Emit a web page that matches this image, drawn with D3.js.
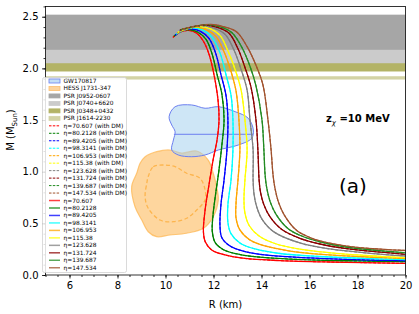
<!DOCTYPE html>
<html>
<head>
<meta charset="utf-8">
<script src="https://cdn.jsdelivr.net/npm/d3@7"></script>
<style>
body { margin: 0; background: #fff; }
text { font-family: "DejaVu Sans", sans-serif; fill: #000; }
</style>
</head>
<body>
<svg id="chart" width="419" height="314"></svg>
<script>
// eta values of the ten EoS curves
var etaLabels = ["70.607", "80.2128", "89.4205", "98.3141", "106.953", "115.38", "123.628", "131.724", "139.687", "147.534"];
var curveColors = ["red", "green", "blue", "cyan", "orange", "yellow", "grey", "darkred", "forestgreen", "sienna"];

// mass-radius curves [R (km), M (Msun)]
var mrEta70 = [[10.31,2.30],[10.60,2.35],[10.94,2.367],[11.27,2.345],[11.56,2.27],[11.81,2.14],[12.02,1.94],[12.19,1.69],[12.23,1.50],[12.15,1.31],[11.98,1.11],[11.81,0.87],[11.65,0.63],[11.58,0.42],[11.66,0.32],[11.94,0.24],[12.48,0.194],[13.31,0.16],[14.77,0.14],[16.85,0.126],[20.0,0.113]];
var mrEta80 = [[10.35,2.31],[10.65,2.36],[10.98,2.374],[11.35,2.35],[11.69,2.28],[11.94,2.14],[12.15,1.94],[12.35,1.75],[12.44,1.50],[12.35,1.26],[12.23,1.02],[12.08,0.77],[11.98,0.58],[11.95,0.42],[12.08,0.31],[12.44,0.242],[13.10,0.198],[14.15,0.169],[16.02,0.147],[18.10,0.136],[20.0,0.129]];
var mrEta89 = [[10.40,2.32],[10.69,2.365],[11.06,2.382],[11.44,2.36],[11.81,2.29],[12.10,2.14],[12.31,1.94],[12.52,1.74],[12.60,1.50],[12.56,1.21],[12.44,0.92],[12.31,0.68],[12.27,0.48],[12.35,0.36],[12.69,0.28],[13.31,0.227],[14.35,0.189],[16.02,0.165],[18.10,0.147],[20.0,0.138]];
var mrEta98 = [[10.44,2.33],[10.77,2.37],[11.15,2.39],[11.56,2.37],[11.94,2.30],[12.27,2.15],[12.52,1.94],[12.73,1.74],[12.81,1.50],[12.81,1.21],[12.73,0.92],[12.60,0.68],[12.60,0.51],[12.73,0.40],[13.10,0.31],[13.73,0.252],[14.77,0.208],[16.44,0.179],[18.52,0.158],[20.0,0.148]];
var mrEta107 = [[10.48,2.34],[10.85,2.38],[11.27,2.397],[11.69,2.375],[12.10,2.31],[12.44,2.16],[12.73,1.97],[12.94,1.78],[13.06,1.50],[13.10,1.21],[13.02,0.92],[12.94,0.70],[12.94,0.55],[13.10,0.436],[13.52,0.339],[14.15,0.281],[15.19,0.232],[16.85,0.194],[18.94,0.169],[20.0,0.158]];
var mrEta115 = [[10.52,2.35],[10.94,2.385],[11.40,2.405],[11.85,2.385],[12.27,2.32],[12.60,2.17],[12.90,1.99],[13.15,1.79],[13.31,1.50],[13.40,1.21],[13.31,0.92],[13.27,0.73],[13.31,0.60],[13.50,0.474],[13.90,0.378],[14.56,0.305],[15.60,0.250],[17.27,0.206],[18.94,0.181],[20.0,0.167]];
var mrEta124 = [[10.56,2.36],[11.02,2.39],[11.52,2.412],[12.02,2.39],[12.48,2.33],[12.85,2.18],[13.15,1.99],[13.40,1.79],[13.52,1.50],[13.65,1.21],[13.65,0.92],[13.69,0.78],[13.80,0.66],[14.02,0.54],[14.50,0.42],[15.60,0.31],[16.85,0.252],[18.52,0.21],[20.0,0.184]];
var mrEta132 = [[10.60,2.37],[11.10,2.40],[11.65,2.418],[12.19,2.395],[12.65,2.34],[13.02,2.19],[13.31,2.01],[13.56,1.82],[13.77,1.50],[13.85,1.21],[13.90,0.92],[13.96,0.80],[14.10,0.68],[14.35,0.565],[14.85,0.44],[15.60,0.355],[16.44,0.30],[17.55,0.255],[18.94,0.222],[20.0,0.200]];
var mrEta140 = [[10.65,2.375],[11.19,2.405],[11.77,2.422],[12.31,2.40],[12.77,2.345],[13.19,2.20],[13.52,2.02],[13.77,1.83],[14.02,1.50],[14.10,1.21],[14.15,0.97],[14.22,0.84],[14.36,0.71],[14.60,0.59],[15.10,0.45],[15.60,0.385],[16.44,0.32],[17.55,0.27],[18.94,0.235],[20.0,0.215]];
var mrEta148 = [[10.69,2.38],[11.27,2.41],[11.90,2.425],[12.48,2.40],[12.98,2.35],[13.40,2.21],[13.77,2.03],[14.06,1.84],[14.27,1.50],[14.40,1.21],[14.48,0.97],[14.56,0.84],[14.70,0.71],[14.95,0.58],[15.47,0.43],[16.0,0.365],[16.44,0.33],[17.55,0.28],[18.94,0.25],[20.0,0.237]];
var mrCurves = [mrEta70, mrEta80, mrEta89, mrEta98, mrEta107, mrEta115, mrEta124, mrEta132, mrEta140, mrEta148];

// pulsar mass bands [low, high]
var bandNames = ["PSR J0952-0607", "PSR J0740+6620", "PSR J0348+0432", "PSR J1614-2230"];
var bandLow = [2.18, 2.04, 1.97, 1.892];
var bandHigh = [2.52, 2.24, 2.05, 1.924];
var bandColors = ["#a6a6a6", "#cbcbcb", "#b3b366", "#d3d3a5"];

// GW170817 region, HESS J1731-347 regions
var gwOutline = [[10.40,1.629],[11.09,1.646],[11.65,1.614],[12.20,1.629],[12.90,1.581],[13.45,1.517],[13.66,1.404],[13.59,1.323],[13.03,1.258],[12.20,1.210],[11.65,1.162],[11.09,1.145],[10.53,1.162],[10.26,1.210],[10.33,1.307],[10.40,1.387],[10.26,1.452],[10.15,1.532]];
var gwLine = [[10.35,1.362],[13.65,1.362]];
var hessOuter = [[9.15,1.145],[9.63,1.194],[10.19,1.21],[10.68,1.18],[11.30,1.20],[11.78,1.113],[11.99,0.985],[12.13,0.855],[12.20,0.726],[11.99,0.564],[11.58,0.452],[10.88,0.404],[10.19,0.387],[9.63,0.371],[9.28,0.419],[9.01,0.532],[8.73,0.661],[8.59,0.855],[8.80,0.985],[8.94,1.081]];
var hessInner = [[9.28,0.952],[9.49,1.048],[9.91,1.065],[10.40,1.048],[10.88,0.985],[11.44,0.936],[11.65,0.823],[11.65,0.726],[11.30,0.629],[10.88,0.549],[10.33,0.516],[9.77,0.532],[9.28,0.646],[9.15,0.758],[9.22,0.888]];

var xTicks = [6, 8, 10, 12, 14, 16, 18, 20];
var yTicks = [0.0, 0.5, 1.0, 1.5, 2.0, 2.5];

var svg = d3.select("#chart");
var x = d3.scaleLinear().domain([5, 20]).range([45.5, 405.5]);
var y = d3.scaleLinear().domain([0, 2.6]).range([275, 6.4]);

svg.append("clipPath").attr("id", "plotclip")
	.append("rect").attr("x", x(5)).attr("y", y(2.6))
	.attr("width", x(20) - x(5)).attr("height", y(0) - y(2.6));

var plot = svg.append("g").attr("clip-path", "url(#plotclip)");

// bands, drawn so the narrower ones stay on top
var bandOrder = [1, 0, 2, 3];
bandOrder.forEach(function(i) {
	plot.append("rect")
	.attr("x", x(5)).attr("width", x(20) - x(5))
	.attr("y", y(bandHigh[i])).attr("height", y(bandLow[i]) - y(bandHigh[i]))
	.attr("fill", bandColors[i]);
});

var regionLine = d3.line().x(function(d) { return x(d[0]); }).y(function(d) { return y(d[1]); })
	.curve(d3.curveCatmullRomClosed.alpha(0.5));
var straight = d3.line().x(function(d) { return x(d[0]); }).y(function(d) { return y(d[1]); });

plot.append("path").attr("d", regionLine(hessOuter))
	.attr("fill", "#fdb54e").attr("fill-opacity", 0.55)
	.attr("stroke", "#fdb54e").attr("stroke-opacity", 0.7).attr("stroke-width", 1.2);
plot.append("path").attr("d", regionLine(hessInner))
	.attr("fill", "none").attr("stroke", "#fdb54e").attr("stroke-width", 1.3)
	.attr("stroke-dasharray", "4,2.5");

plot.append("path").attr("d", regionLine(gwOutline))
	.attr("fill", "#a6d1ee").attr("fill-opacity", 0.55)
	.attr("stroke", "#6c7ff0").attr("stroke-width", 1);
plot.append("path").attr("d", straight(gwLine))
	.attr("stroke", "#6c7ff0").attr("stroke-width", 1);

var mrLine = d3.line().x(function(d) { return x(d[0]); }).y(function(d) { return y(d[1]); })
	.curve(d3.curveCatmullRom.alpha(0.5));

// without DM: solid
mrCurves.forEach(function(c, i) {
	plot.append("path").attr("d", mrLine(c))
	.attr("fill", "none").attr("stroke", curveColors[i]).attr("stroke-width", 1.3);
});
// with DM: dashed on top
mrCurves.forEach(function(c, i) {
	plot.append("path").attr("d", mrLine(c))
	.attr("fill", "none").attr("stroke", curveColors[i]).attr("stroke-width", 1.1)
	.attr("stroke-dasharray", "3,1.6");
});

// frame
svg.append("rect").attr("x", x(5)).attr("y", y(2.6))
	.attr("width", x(20) - x(5)).attr("height", y(0) - y(2.6))
	.attr("fill", "none").attr("stroke", "#000").attr("stroke-width", 0.8);

// axes
svg.append("g").attr("transform", "translate(0," + y(0) + ")")
	.call(d3.axisBottom(x).tickValues(xTicks).tickFormat(d3.format("d")).tickSize(3.5).tickPadding(3.5));
svg.append("g").attr("transform", "translate(0," + y(0) + ")")
	.call(d3.axisBottom(x).tickValues(d3.range(5, 20.01, 0.5)).tickFormat("").tickSize(2));
svg.append("g").attr("transform", "translate(" + x(5) + ",0)")
	.call(d3.axisLeft(y).tickValues(yTicks).tickFormat(d3.format(".1f")).tickSize(3.5).tickPadding(3.5));
svg.append("g").attr("transform", "translate(" + x(5) + ",0)")
	.call(d3.axisLeft(y).tickValues(d3.range(0, 2.61, 0.1)).tickFormat("").tickSize(2));
svg.selectAll(".domain").remove();
svg.selectAll(".tick line").attr("stroke", "#000").attr("stroke-width", 0.8);
svg.selectAll(".tick text").attr("font-size", 10).attr("font-family", "DejaVu Sans");

svg.append("text").attr("x", (x(5) + x(20)) / 2).attr("y", 308)
	.attr("text-anchor", "middle").attr("font-size", 10).text("R (km)");
var ylab = svg.append("text").attr("transform", "translate(14," + 130 + ") rotate(-90)")
	.attr("text-anchor", "middle").attr("font-size", 10);
ylab.append("tspan").text("M (M");
ylab.append("tspan").attr("font-size", 7).attr("dy", 2.5).text("Sun");
ylab.append("tspan").attr("dy", -2.5).text(")");

var zl = svg.append("text").attr("x", 326).attr("y", 122).attr("font-size", 10).attr("font-weight", "bold");
zl.append("tspan").text("z");
zl.append("tspan").attr("font-size", 7).attr("dy", 2.5).attr("font-weight", "normal").attr("font-style", "italic").text("χ");
zl.append("tspan").attr("dy", -2.5).text(" =10 MeV");

svg.append("text").attr("x", 339).attr("y", 193).attr("font-size", 20).text("(a)");

// legend
var legendEntries = [];
legendEntries.push({ kind: "patch", label: "GW170817", fill: "#c4dff5", stroke: "#6c7ff0" });
legendEntries.push({ kind: "patch", label: "HESS J1731-347", fill: "#fed49c", stroke: "#fdbf6f" });
bandNames.forEach(function(n, i) {
	legendEntries.push({ kind: "patch", label: n, fill: bandColors[i], stroke: bandColors[i] });
});
etaLabels.forEach(function(e, i) {
	legendEntries.push({ kind: "dash", label: "η=" + e + " (with DM)", color: curveColors[i] });
});
etaLabels.forEach(function(e, i) {
	legendEntries.push({ kind: "line", label: "η=" + e, color: curveColors[i] });
});

var lg = svg.append("g");
lg.append("rect").attr("x", 42.5).attr("y", 77.5).attr("width", 84).attr("height", 195)
	.attr("rx", 2).attr("fill", "#fff").attr("fill-opacity", 0.85)
	.attr("stroke", "#d0d0d0").attr("stroke-width", 0.8);

var rowH = 7.47;
var item = lg.selectAll("g.item").data(legendEntries).enter().append("g")
	.attr("class", "item")
	.attr("transform", function(d, i) { return "translate(0," + (81 + i * rowH) + ")"; });

item.filter(function(d) { return d.kind === "patch"; }).append("rect")
	.attr("x", 49).attr("y", -2).attr("width", 11).attr("height", 4)
	.attr("fill", function(d) { return d.fill; })
	.attr("stroke", function(d) { return d.stroke; }).attr("stroke-width", 0.8);
item.filter(function(d) { return d.kind !== "patch"; }).append("line")
	.attr("x1", 49).attr("x2", 60).attr("y1", 0).attr("y2", 0)
	.attr("stroke", function(d) { return d.color; })
	.attr("stroke-width", function(d) { return d.kind === "line" ? 1.5 : 1; })
	.attr("stroke-opacity", function(d) { return d.kind === "line" ? 0.75 : 1; })
	.attr("stroke-dasharray", function(d) { return d.kind === "dash" ? "2.5,1.3" : null; });
item.append("text").attr("x", 63.5).attr("y", 2).attr("font-size", 5.9)
	.text(function(d) { return d.label; });
</script>
</body>
</html>
